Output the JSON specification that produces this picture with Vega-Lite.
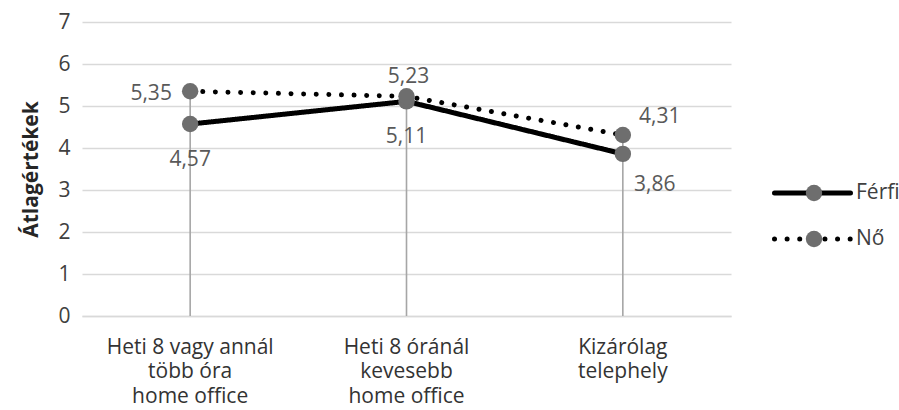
{
  "$schema": "https://vega.github.io/schema/vega-lite/v6.json",
  "width": 649,
  "height": 294,
  "autosize": "none",
  "padding": {"left": 82, "top": 22, "right": 168, "bottom": 94},
  "background": "white",
  "config": {
    "locale": {"number": {"decimal": ",", "thousands": " ", "grouping": [3], "currency": ["", ""]}},
    "font": "Open Sans",
    "view": {"stroke": null}
  },
  "data": {
    "values": [
      {"cat": "Heti 8 vagy annál|több óra|home office", "series": "Férfi", "value": 4.57},
      {"cat": "Heti 8 óránál|kevesebb|home office", "series": "Férfi", "value": 5.11},
      {"cat": "Kizárólag|telephely", "series": "Férfi", "value": 3.86},
      {"cat": "Heti 8 vagy annál|több óra|home office", "series": "Nő", "value": 5.35},
      {"cat": "Heti 8 óránál|kevesebb|home office", "series": "Nő", "value": 5.23},
      {"cat": "Kizárólag|telephely", "series": "Nő", "value": 4.31}
    ]
  },
  "encoding": {
    "x": {
      "field": "cat", "type": "nominal", "sort": null,
      "axis": {
        "title": null, "labelAngle": 0, "ticks": false, "grid": false,
        "domainColor": "#d9d9d9", "domainWidth": 1.3,
        "labelExpr": "split(datum.label, '|')",
        "labelFont": "Open Sans", "labelFontSize": 21, "labelColor": "#333333",
        "labelLineHeight": 24.5, "labelPadding": 31, "labelBaseline": "middle",
        "labelOverlap": false, "labelLimit": 0
      }
    }
  },
  "layer": [
    {
      "transform": [{"aggregate": [{"op": "max", "field": "value", "as": "maxv"}], "groupby": ["cat"]}],
      "mark": {"type": "rule", "color": "#a6a6a6", "strokeWidth": 1.6},
      "encoding": {
        "y": {
          "field": "maxv", "type": "quantitative",
          "scale": {"domain": [0, 7], "nice": false},
          "axis": {
            "title": "Átlagértékek", "titleFont": "Open Sans", "titleFontSize": 21, "titleFontWeight": "bold",
            "titleColor": "#262626", "titlePadding": 16,
            "values": [0, 1, 2, 3, 4, 5, 6, 7], "domain": false, "ticks": false,
            "labelFont": "Open Sans", "labelFontSize": 21, "labelColor": "#404040", "labelPadding": 12,
            "gridColor": "#d9d9d9", "gridWidth": 1.3
          }
        },
        "y2": {"datum": 0}
      }
    },
    {
      "mark": {"type": "line", "color": "black", "strokeWidth": 5, "strokeCap": "round"},
      "encoding": {
        "y": {"field": "value", "type": "quantitative"},
        "detail": {"field": "series"},
        "strokeDash": {
          "field": "series", "type": "nominal",
          "scale": {"range": [[1, 0], [0.01, 12.6]]},
          "legend": {
            "title": null, "orient": "none", "legendX": 690, "legendY": 161,
            "symbolType": "M-1,0L1,0", "symbolSize": 5776, "symbolStrokeWidth": 5,
            "symbolStrokeColor": "black", "symbolFillColor": "transparent",
            "clipHeight": 20, "rowPadding": 25, "labelOffset": 3,
            "labelFont": "Open Sans", "labelFontSize": 21, "labelColor": "#404040",
            "zindex": 1,
            "encode": {"symbols": {"update": {"strokeCap": {"value": "round"}}}}
          }
        }
      }
    },
    {
      "mark": {"type": "point", "filled": true, "opacity": 1, "size": 270},
      "encoding": {
        "y": {"field": "value", "type": "quantitative"},
        "fill": {
          "field": "series", "type": "nominal",
          "scale": {"domain": ["Férfi", "Nő"], "range": ["#6e6e6e", "#6e6e6e"]},
          "legend": {
            "title": null, "orient": "none", "legendX": 721.5, "legendY": 161,
            "symbolType": "circle", "symbolSize": 270, "symbolStrokeWidth": 0,
            "symbolOpacity": 1,
            "clipHeight": 20, "rowPadding": 25, "labelOpacity": 0,
            "labelFont": "Open Sans", "labelFontSize": 21,
            "zindex": 2
          }
        }
      }
    },
    {
      "transform": [{"filter": "datum.series === 'Férfi' && datum.cat !== 'Kizárólag|telephely'"}],
      "mark": {"type": "text", "font": "Open Sans", "fontSize": 21, "color": "#595959", "dy": 36},
      "encoding": {"y": {"field": "value", "type": "quantitative"}, "text": {"field": "value", "type": "quantitative", "format": ".2f"}}
    },
    {
      "transform": [{"filter": "datum.series === 'Férfi' && datum.cat === 'Kizárólag|telephely'"}],
      "mark": {"type": "text", "font": "Open Sans", "fontSize": 21, "color": "#595959", "dx": 32, "dy": 31},
      "encoding": {"y": {"field": "value", "type": "quantitative"}, "text": {"field": "value", "type": "quantitative", "format": ".2f"}}
    },
    {
      "transform": [{"filter": "datum.series === 'Nő' && datum.cat === 'Heti 8 vagy annál|több óra|home office'"}],
      "mark": {"type": "text", "font": "Open Sans", "fontSize": 21, "color": "#595959", "dx": -39, "dy": 3},
      "encoding": {"y": {"field": "value", "type": "quantitative"}, "text": {"field": "value", "type": "quantitative", "format": ".2f"}}
    },
    {
      "transform": [{"filter": "datum.series === 'Nő' && datum.cat === 'Heti 8 óránál|kevesebb|home office'"}],
      "mark": {"type": "text", "font": "Open Sans", "fontSize": 21, "color": "#595959", "dx": 2, "dy": -19},
      "encoding": {"y": {"field": "value", "type": "quantitative"}, "text": {"field": "value", "type": "quantitative", "format": ".2f"}}
    },
    {
      "transform": [{"filter": "datum.series === 'Nő' && datum.cat === 'Kizárólag|telephely'"}],
      "mark": {"type": "text", "font": "Open Sans", "fontSize": 21, "color": "#595959", "dx": 37, "dy": -18},
      "encoding": {"y": {"field": "value", "type": "quantitative"}, "text": {"field": "value", "type": "quantitative", "format": ".2f"}}
    }
  ]
}
